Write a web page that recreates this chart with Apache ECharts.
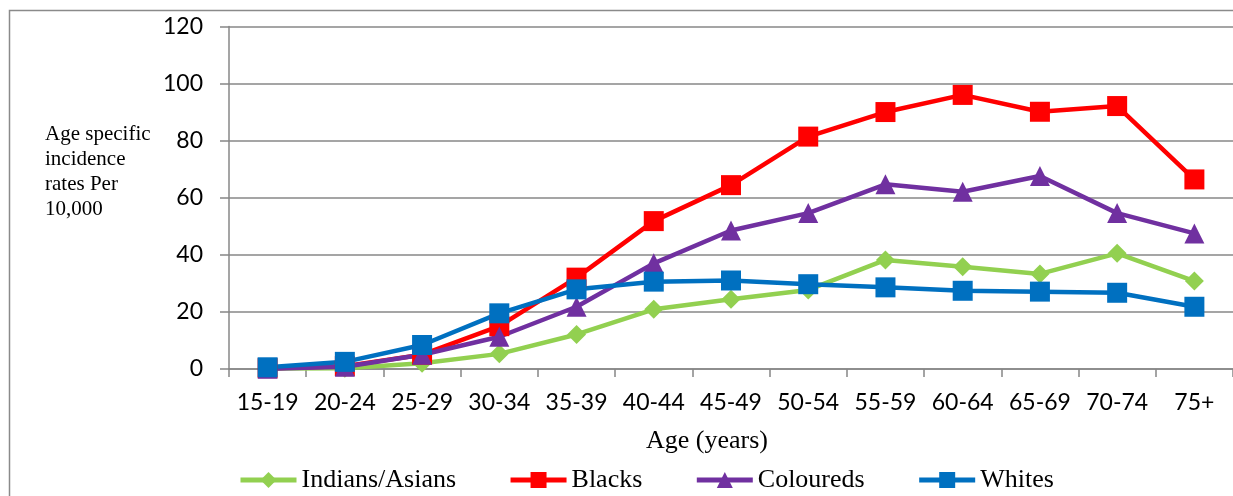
<!DOCTYPE html>
<html>
<head>
<meta charset="utf-8">
<script src="https://cdn.jsdelivr.net/npm/echarts@6/dist/echarts.min.js"></script>
<style>
  html, body { margin: 0; padding: 0; background: #fff; }
  #chart { width: 1233px; height: 496px; }
</style>
</head>
<body>
<div id="chart"></div>
<script>
// Age groups on the horizontal axis
const ageGroups = ['15-19', '20-24', '25-29', '30-34', '35-39', '40-44', '45-49',
                   '50-54', '55-59', '60-64', '65-69', '70-74', '75+'];

// Age specific incidence rates per 10,000, by population group
const indiansAsians = [0.2, 0.3, 2.0, 5.3, 12.1, 20.9, 24.4, 27.7, 38.2, 35.8, 33.3, 40.5, 30.8];
const blacks        = [0.3, 1.0, 5.0, 15.0, 32.0, 51.8, 64.4, 81.4, 90.0, 96.0, 90.1, 92.1, 66.4];
const coloureds     = [0.1, 0.8, 5.0, 11.3, 21.8, 37.0, 48.5, 54.6, 64.7, 62.1, 67.6, 54.6, 47.5];
const whites        = [0.6, 2.5, 8.4, 19.5, 27.9, 30.6, 31.0, 29.7, 28.6, 27.4, 27.1, 26.7, 21.8];

const groupNames = ['Indians/Asians', 'Blacks', 'Coloureds', 'Whites'];
const yTicks = [0, 20, 40, 60, 80, 100, 120];

const GRID_GREY = '#878787';
const SERIF = '"Liberation Serif", "Times New Roman", serif';
const SANS = 'Lato, "Open Sans", sans-serif';

function lineSeries(name, data, color, symbol, size) {
  return {
    name: name,
    type: 'line',
    data: data,
    symbol: symbol,
    symbolSize: size,
    showAllSymbol: true,
    lineStyle: { color: color, width: 4.5 },
    itemStyle: { color: color, borderWidth: 0 },
    emphasis: { disabled: true },
    animation: false
  };
}

const chart = echarts.init(document.getElementById('chart'), null, { renderer: 'canvas' });

chart.setOption({
  backgroundColor: '#ffffff',
  animation: false,
  grid: { left: 229, right: -4.6, top: 26.4, bottom: 127, containLabel: false },
  xAxis: {
    type: 'category',
    data: ageGroups,
    boundaryGap: true,
    axisLine: { show: true, lineStyle: { color: GRID_GREY, width: 1.5 } },
    axisTick: { show: true, length: 8, alignWithLabel: false, lineStyle: { color: GRID_GREY, width: 1.5 } },
    axisLabel: { color: '#000', fontFamily: SANS, fontSize: 23, margin: 22, interval: 0 },
    splitLine: { show: false }
  },
  yAxis: {
    type: 'value',
    min: yTicks[0],
    max: yTicks[yTicks.length - 1],
    interval: yTicks[1] - yTicks[0],
    axisLine: { show: true, lineStyle: { color: GRID_GREY, width: 1.5 } },
    axisTick: { show: true, length: 9, lineStyle: { color: GRID_GREY, width: 1.5 } },
    axisLabel: { color: '#000', fontFamily: SANS, fontSize: 23, margin: 26 },
    splitLine: { show: true, lineStyle: { color: GRID_GREY, width: 1.5 } }
  },
  legend: {
    data: groupNames,
    left: 233,
    top: 462,
    orient: 'horizontal',
    itemWidth: 56,
    itemHeight: 20,
    itemGap: 52,
    lineStyle: { width: 5 },
    textStyle: { color: '#000', fontFamily: SERIF, fontSize: 26 },
    selectedMode: false
  },
  graphic: [
    {
      type: 'rect',
      silent: true,
      shape: { x: 9.5, y: 10.5, width: 1240, height: 500 },
      style: { fill: 'none', stroke: '#8a8a8a', lineWidth: 1.5 }
    },
    {
      type: 'text',
      silent: true,
      left: 45,
      top: 122,
      style: {
        text: 'Age specific\nincidence\nrates Per\n10,000',
        font: '21px ' + SERIF,
        lineHeight: 25,
        fill: '#000',
        textAlign: 'left'
      }
    },
    {
      type: 'text',
      silent: true,
      x: 707,
      y: 441,
      style: {
        text: 'Age (years)',
        font: '26px ' + SERIF,
        fill: '#000',
        textAlign: 'center',
        textVerticalAlign: 'middle'
      }
    }
  ],
  series: [
    lineSeries(groupNames[0], indiansAsians, '#92D050', 'diamond', 19),
    lineSeries(groupNames[1], blacks, '#FF0000', 'rect', 20),
    lineSeries(groupNames[2], coloureds, '#7030A0', 'triangle', 20),
    lineSeries(groupNames[3], whites, '#0070C0', 'rect', 20)
  ]
});
</script>
</body>
</html>
